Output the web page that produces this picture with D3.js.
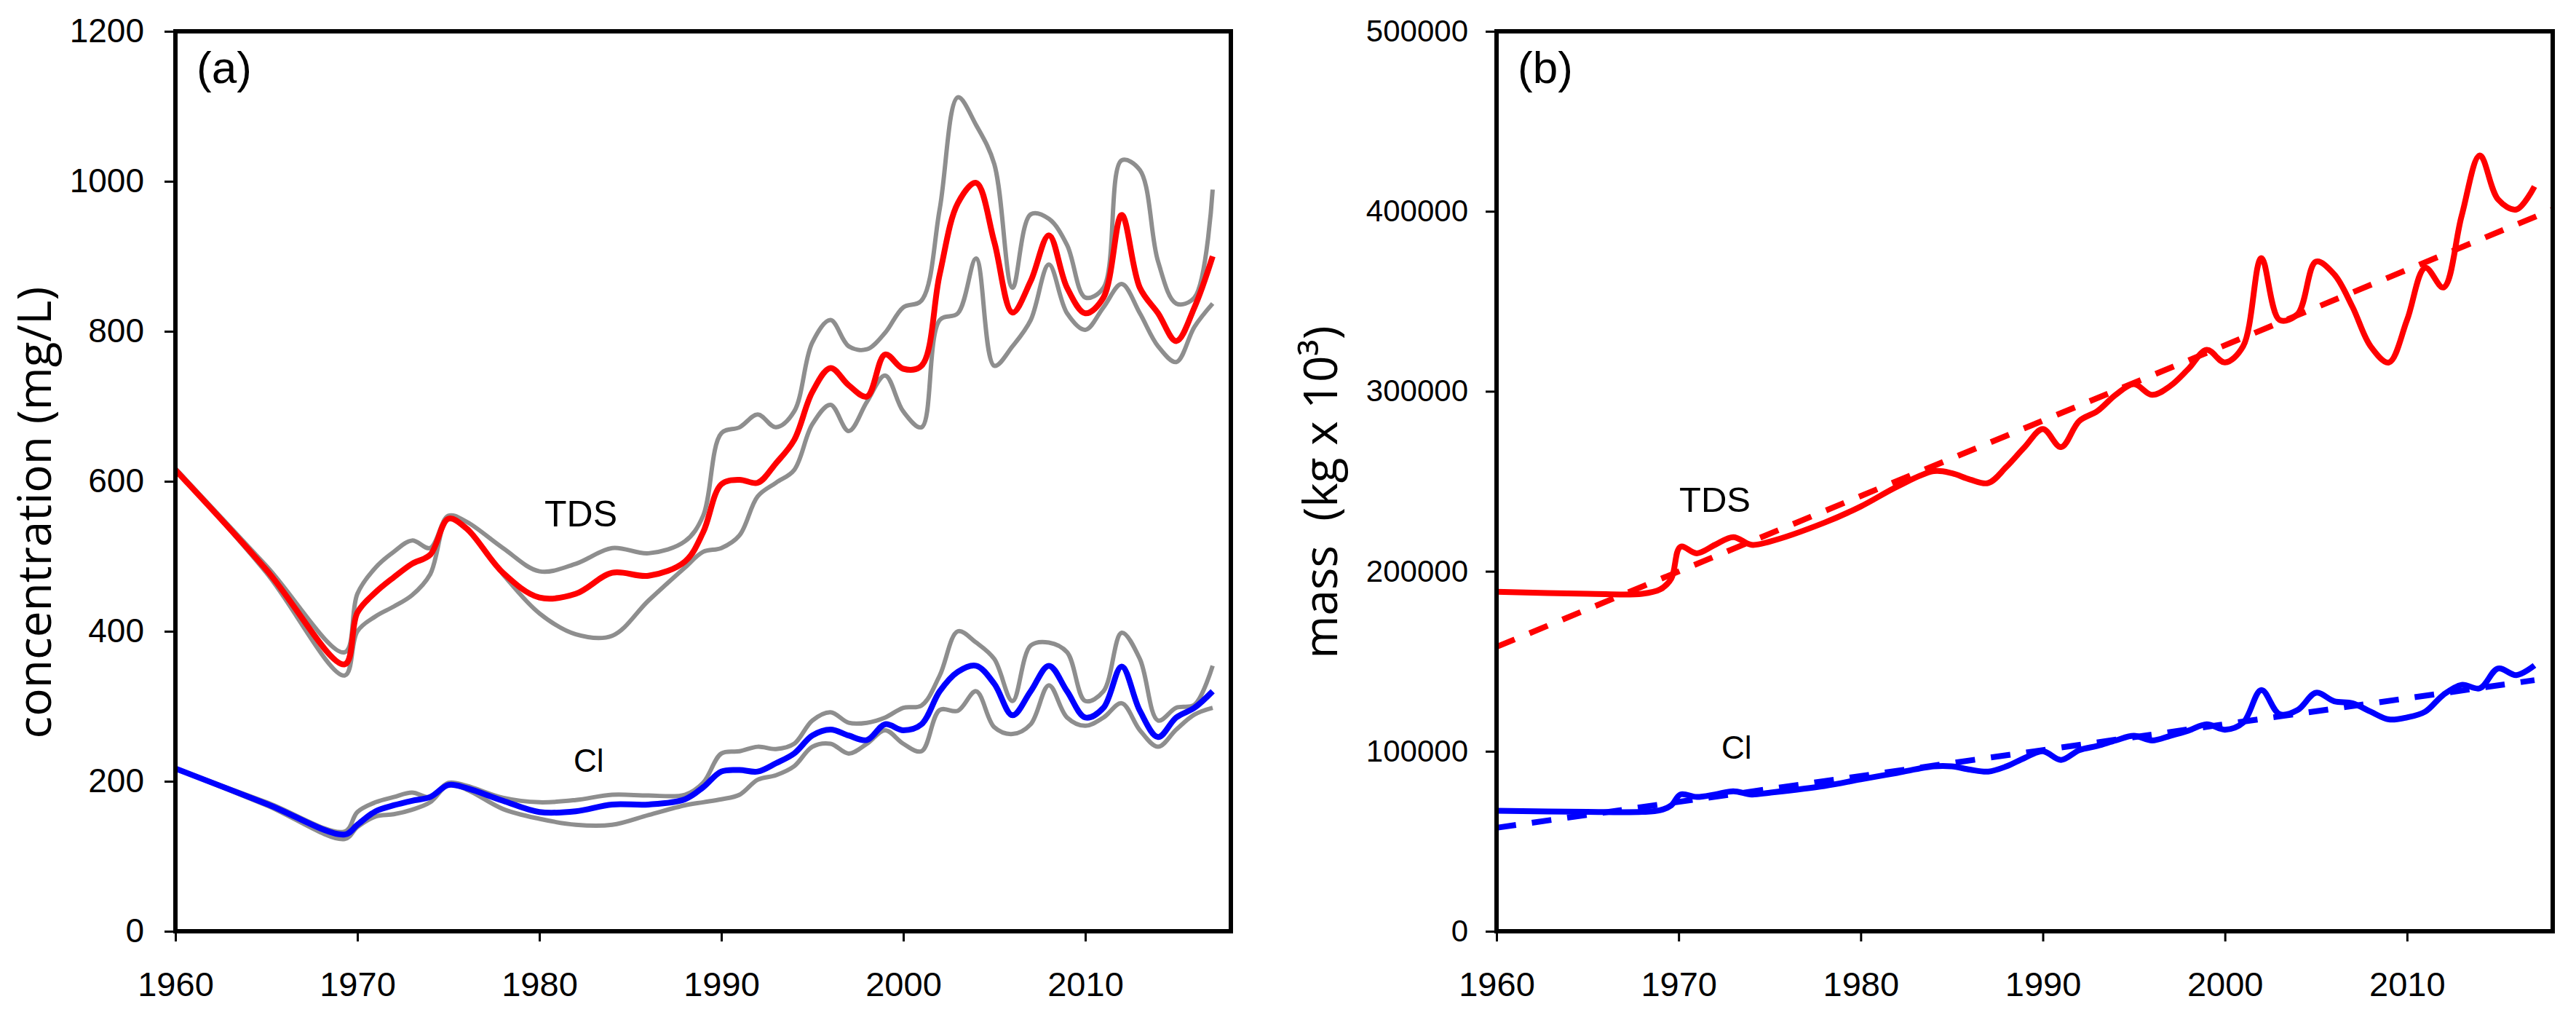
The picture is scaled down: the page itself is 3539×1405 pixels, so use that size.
<!DOCTYPE html>
<html>
<head>
<meta charset="utf-8">
<script src="https://cdn.jsdelivr.net/npm/d3@7"></script>
<style>
  body { margin: 0; background: #fff; }
  svg { display: block; }
  .tick text { font-family: "Liberation Sans", Arial, sans-serif; fill: #000; }
  .tick line { stroke: #000; stroke-width: 3; }
  .ylab { font-family: "Open Sans", sans-serif; font-size: 64px; white-space: pre; }
  .lab { font-family: "Liberation Sans", Arial, sans-serif; }
</style>
</head>
<body>
<svg id="chart" width="3539" height="1405"></svg>
<script>
// panel (a): concentration, mg/L
var yearsA = [1960, 1965, 1969.3, 1970, 1971, 1972, 1973, 1974, 1975, 1976, 1978, 1980, 1982, 1984, 1986, 1988, 1989,
  1990, 1991, 1992, 1993, 1994, 1995, 1996, 1997, 1998, 1999, 2000, 2001, 2002, 2003, 2004, 2005, 2006, 2007, 2008,
  2009, 2010, 2011, 2012, 2013, 2014, 2015, 2016, 2017]
var tdsConc = [615, 482, 356, 425, 452, 472, 490, 502, 550, 537, 478, 445, 450, 478, 474, 493, 532,
  596, 602, 598, 624, 655, 719, 751, 728, 713, 769, 750, 754, 876, 971, 998, 919, 825, 867, 928,
  858, 824, 845, 955, 858, 824, 787, 832, 900]
var tdsConcHi = [617, 487, 372, 450, 485, 506, 521, 511, 554, 546, 511, 480, 490, 511, 504, 520, 554,
  664, 672, 689, 672, 693, 785, 815, 780, 776, 798, 832, 841, 963, 1112, 1075, 1023, 858, 956, 950,
  915, 845, 858, 1028, 1015, 893, 837, 845, 989]
var tdsConcLo = [617, 478, 341, 400, 420, 433, 448, 476, 552, 537, 476, 424, 396, 394, 441, 485, 506,
  511, 528, 580, 598, 615, 676, 702, 667, 706, 741, 693, 672, 815, 824, 897, 754, 780, 815, 889,
  824, 802, 832, 863, 824, 780, 759, 806, 837]
var clConc = [217, 170, 129, 142, 160, 168, 174, 179, 195, 191, 174, 159, 160, 169, 169, 176, 192,
  213, 215, 213, 224, 237, 261, 269, 261, 255, 276, 268, 276, 320, 346, 354, 330, 288, 320, 354,
  320, 285, 298, 353, 294, 259, 285, 298, 320]
var clConcHi = [217, 172, 133, 159, 172, 179, 185, 179, 198, 194, 178, 172, 175, 182, 181, 182, 198,
  237, 240, 246, 243, 250, 281, 292, 278, 278, 285, 298, 301, 341, 400, 385, 363, 307, 381, 385,
  372, 307, 320, 398, 363, 281, 298, 302, 354]
var clConcLo = [217, 168, 123, 139, 153, 156, 162, 172, 195, 189, 163, 150, 142, 142, 155, 168, 172,
  176, 182, 202, 208, 220, 246, 250, 237, 250, 268, 250, 240, 295, 294, 320, 272, 263, 276, 328,
  285, 274, 285, 304, 268, 246, 269, 289, 298]

// panel (b): mass, kg x 10^3
var yearsB = [1960, 1965, 1968, 1969, 1969.6, 1970.1, 1971, 1972, 1973, 1974, 1975, 1978, 1980, 1982, 1984, 1985,
  1986, 1987, 1988, 1989, 1990, 1991, 1992, 1993, 1994, 1995, 1996, 1997, 1998, 1999, 2000, 2001, 2002, 2003,
  2004, 2005, 2006, 2007, 2008, 2009, 2010, 2011, 2012, 2013, 2014, 2015, 2016, 2017]
var tdsMass = [188600, 187500, 187500, 190000, 196000, 213600, 210000, 214700, 219000, 214700, 216500, 227000,
  236000, 247000, 255600, 254500, 251000, 249000, 258000, 269000, 279000, 269000, 283500, 289000, 298000,
  304000, 298000, 303000, 312500, 323000, 316000, 325000, 374000, 339600, 343000, 372000, 365000, 347000,
  325000, 316000, 339600, 368600, 357700, 397500, 431000, 406600, 401000, 413800]
var clMass = [67000, 66300, 66300, 67300, 70000, 76000, 74600, 76000, 77800, 76000, 77000, 80700, 84400, 88000,
  91600, 91600, 89800, 88700, 91600, 96300, 100000, 95200, 100600, 103000, 106000, 108600, 106000, 108600,
  111500, 115000, 112000, 115900, 134000, 120600, 123000, 132500, 127800, 126700, 122000, 117700, 118800,
  122000, 131400, 136900, 135000, 146000, 142300, 147700]
var tdsTrendYears = [1960, 2018]
  , tdsTrend = [158000, 401000]
var clTrendYears = [1960, 2017]
  , clTrend = [57500, 139500]

var yearTicks = [1960, 1970, 1980, 1990, 2000, 2010]
  , concTicks = [0, 200, 400, 600, 800, 1000, 1200]
  , massTicks = [0, 100000, 200000, 300000, 400000, 500000]

var svg = d3.select('svg#chart')
  , plotTop = 43, plotBottom = 1279
  , red = '#ff0000', blue = '#0000ff', grey = '#8e8e8e'

var zip = function(xs, ys) {
  return xs.map(function(x, i) { return [x, ys[i]] })
}

var drawPanel = function(p) {
  var x = d3.scaleLinear().domain([1960, 2018]).range([p.left, p.right])
    , y = d3.scaleLinear().domain(p.yDomain).range([plotBottom, plotTop])
    , g = svg.append('g')

  p.series.forEach(function(s) {
    var line = d3.line()
      .x(function(d) { return x(d[0]) })
      .y(function(d) { return y(d[1]) })
      .curve(s.values.length > 2 ? d3.curveCatmullRom.alpha(0.5) : d3.curveLinear)
    g.append('path')
      .datum(zip(s.years, s.values))
      .attr('d', line)
      .attr('fill', 'none')
      .attr('stroke', s.color)
      .attr('stroke-width', s.width)
      .attr('stroke-dasharray', s.dash || null)
      .attr('stroke-linejoin', 'round')
  })

  var yAxis = g.append('g')
    .attr('transform', 'translate(' + p.left + ',0)')
    .call(d3.axisLeft(y).tickValues(p.yTicks).tickFormat(d3.format('d')).tickSize(15).tickPadding(p.yPad))
  yAxis.select('.domain').remove()
  yAxis.selectAll('.tick text').style('font-size', p.yFont + 'px')

  var xAxis = g.append('g')
    .attr('transform', 'translate(0,' + plotBottom + ')')
    .call(d3.axisBottom(x).tickValues(yearTicks).tickFormat(d3.format('d')).tickSize(14).tickPadding(42))
  xAxis.select('.domain').remove()
  xAxis.selectAll('.tick text').style('font-size', '47px')

  g.append('rect')
    .attr('x', p.left).attr('y', plotTop)
    .attr('width', p.right - p.left).attr('height', plotBottom - plotTop)
    .attr('fill', 'none').attr('stroke', '#000').attr('stroke-width', 6)

  g.append('text').attr('class', 'ylab')
    .attr('transform', 'translate(' + p.titleX + ',' + p.titleY + ') rotate(-90)')
    .attr('text-anchor', 'middle')
    .text(p.title)

  g.append('text').attr('class', 'lab')
    .attr('x', p.left + 29).attr('y', 114)
    .style('font-size', '62px')
    .text(p.tag)

  p.labels.forEach(function(l) {
    g.append('text').attr('class', 'lab')
      .attr('x', l.x).attr('y', l.y)
      .style('font-size', l.size + 'px')
      .text(l.text)
  })
}

drawPanel({
  left: 241, right: 1691, yDomain: [0, 1200], yTicks: concTicks, yPad: 28, yFont: 46,
  title: 'concentration (mg/L)', titleX: 70, titleY: 704, tag: '(a)',
  series: [
    { years: yearsA, values: tdsConcHi, color: grey, width: 6 },
    { years: yearsA, values: tdsConcLo, color: grey, width: 6 },
    { years: yearsA, values: clConcHi, color: grey, width: 6 },
    { years: yearsA, values: clConcLo, color: grey, width: 6 },
    { years: yearsA, values: tdsConc, color: red, width: 8 },
    { years: yearsA, values: clConc, color: blue, width: 8 }
  ],
  labels: [
    { text: 'TDS', x: 748, y: 723, size: 50 },
    { text: 'Cl', x: 788, y: 1060, size: 44 }
  ]
})

drawPanel({
  left: 2056, right: 3507, yDomain: [0, 500000], yTicks: massTicks, yPad: 24, yFont: 42,
  title: 'mass  (kg x 10\u00b3)', titleX: 1837, titleY: 676, tag: '(b)',
  series: [
    { years: yearsB, values: tdsMass, color: red, width: 8 },
    { years: tdsTrendYears, values: tdsTrend, color: red, width: 8, dash: '27 22' },
    { years: yearsB, values: clMass, color: blue, width: 8 },
    { years: clTrendYears, values: clTrend, color: blue, width: 8, dash: '27 22' }
  ],
  labels: [
    { text: 'TDS', x: 2307, y: 703, size: 49 },
    { text: 'Cl', x: 2365, y: 1042, size: 44 }
  ]
})
</script>
</body>
</html>
